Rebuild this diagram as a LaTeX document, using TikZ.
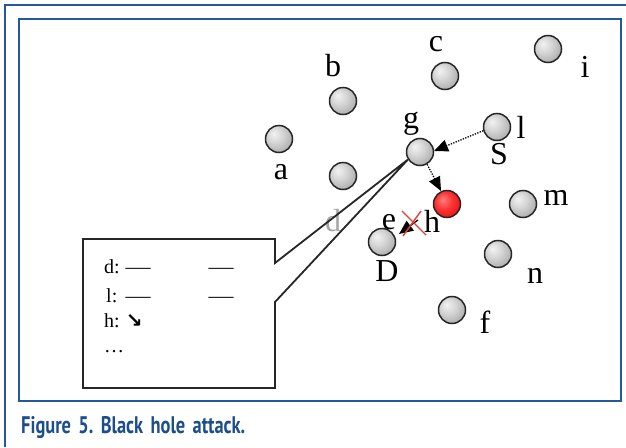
\documentclass[tikz,border=0pt]{standalone}
\usepackage{fontspec}
\setmainfont{Liberation Serif}
\newfontfamily\capfont{PT Sans Bold}
\newfontfamily\symfont{DejaVu Sans}
\usetikzlibrary{arrows.meta}
\definecolor{frameblue}{RGB}{35,88,155}
\definecolor{capblue}{RGB}{28,78,138}
\definecolor{xred}{RGB}{228,62,52}
\pgfdeclareradialshading{grayball}{\pgfpoint{-10bp}{10bp}}{color(0bp)=(black!5);color(14bp)=(black!16);color(40bp)=(black!40);color(60bp)=(black!50)}
\pgfdeclareradialshading{redball}{\pgfpoint{-8bp}{8bp}}{color(0bp)=(red!50!white);color(16bp)=(red!80!white);color(40bp)=(red!85!black);color(60bp)=(red!70!black)}
\tikzset{
  ball/.style={circle, draw=black!85, line width=1.5pt, minimum size=27pt, inner sep=0pt, shading=grayball},
  rednode/.style={ball, shading=redball},
  lbl/.style={inner sep=0pt, font=\fontsize{32}{32}\selectfont},
  boxtxt/.style={inner sep=0pt, anchor=base west, font=\fontsize{20}{20}\selectfont},
  boxdash/.style={inner sep=0pt, anchor=base, font=\fontsize{20}{20}\selectfont},
  dotarrow/.style={line width=1.3pt, dash pattern=on 1.3pt off 1.3pt, -{Triangle[length=14pt,width=12pt]}},
  solarrow/.style={line width=1.3pt, -{Triangle[length=14pt,width=12pt]}},
  callout/.style={line width=1.8pt, draw=black!85, line join=miter},
  cross/.style={xred, line width=1.4pt}
}
\begin{document}
\begin{tikzpicture}[x=1pt,y=-1pt]
\useasboundingbox (0,0) rectangle (626,447);
% frames
\draw[frameblue, line width=1.5pt] (5,447) -- (5,5) -- (626,5);
\draw[frameblue, line width=1.2pt] (19,19) rectangle (621,401);
% nodes
\node[ball] (a) at (279,139) {};
\node[ball] (b) at (343,101) {};
\node[ball] (c) at (445,76) {};
\node[ball] (i) at (548,49) {};
\node[ball] (g) at (420,152) {};
\node[ball] (l) at (497,127) {};
\node[ball] (d) at (343,176) {};
\node[rednode] (h) at (447,204) {};
\node[ball] (m) at (523,204) {};
\node[ball] (e) at (382,242) {};
\node[ball] (n) at (498,254) {};
\node[ball] (f) at (452,310) {};
% labels
\node[lbl] (la) at (281,172) {a};
\node[lbl] (lb) at (333,66) {b};
\node[lbl] (lc) at (436,44) {c};
\node[lbl] (li) at (585,67) {i};
\node[lbl] (lg) at (411,124) {g};
\node[lbl] (ll) at (521,127) {l};
\node[lbl] (lS) at (499,154) {S};
\node[lbl, text=black!35] (ld) at (333,221) {d};
\node[lbl] (le) at (389,222) {e};
\node[lbl] (lh) at (432,221) {h};
\node[lbl] (lm) at (556,198) {m};
\node[lbl] (lD) at (387,271) {D};
\node[lbl] (ln) at (535,276) {n};
\node[lbl] (lf) at (485,322) {f};
% arrows
\coordinate (gin) at (434,151);
\coordinate (hin) at (441,191);
\coordinate (hs) at (418,220);
\coordinate (et) at (399,234);
\draw[dotarrow] (l.195) -- (gin);
\draw[dotarrow] (g.300) -- (hin);
\draw[solarrow] (hs) -- (et);
\coordinate (x1) at (402,211);
\coordinate (x2) at (426,235);
\coordinate (x3) at (421,211);
\coordinate (x4) at (403,236);
\draw[cross] (x1) -- (x2);
\draw[cross] (x3) -- (x4);
% callout
\draw[callout] (83,239) -- (275,239) -- (275,263) -- (g.212) -- (275,302) -- (275,388) -- (83,388) -- cycle;
\node[boxtxt] (r1) at (104,273) {d:};
\node[boxdash] (r1a) at (138,273) {\scalebox{1.25}[1]{—}};
\node[boxdash] (r1b) at (221,273) {\scalebox{1.25}[1]{—}};
\node[boxtxt] (r2) at (106,302) {l:};
\node[boxdash] (r2a) at (138,302) {\scalebox{1.25}[1]{—}};
\node[boxdash] (r2b) at (221,302) {\scalebox{1.25}[1]{—}};
\node[boxtxt] (r3) at (104,327) {h:\hspace{0.3em}{\symfont\bfseries\fontsize{20}{20}\selectfont ↘}};
\node[boxtxt] (r4) at (104,352) {…};
% caption
\node[anchor=base west, inner sep=0pt, text=capblue, font=\capfont\fontsize{24}{24}\selectfont] (cap) at (21,433) {\resizebox{224pt}{\height}{Figure\hspace{0.4em}5.\hspace{0.4em}Black\hspace{0.4em}hole\hspace{0.4em}attack.}};
\end{tikzpicture}
\end{document}
